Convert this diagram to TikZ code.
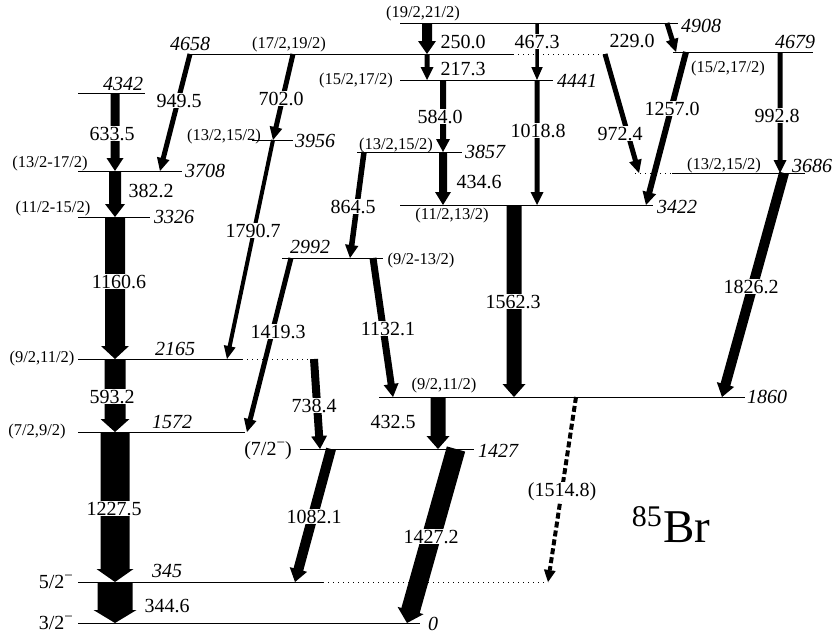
\documentclass[tikz,border=0pt]{standalone}
\usepackage{fontspec}
\setmainfont{Liberation Serif}
\usetikzlibrary{calc}

% raised minus sign for parities
\newcommand\parm{\raisebox{0.38em}{\fontsize{15}{15}\selectfont −}}

% filled gamma-ray arrow from #1 to #2 with shaft width #3 (pt)
\newcommand\gtr[3]{%
  \pgfmathsetmacro\gtrhw{#3/2}%
  \pgfmathsetmacro\gtrho{#3/2+4}%
  \coordinate (gtr-h) at ($(#2)!13pt!(#1)$);
  \fill ($(#1)!\gtrhw pt!90:(#2)$) -- ($(gtr-h)!\gtrhw pt!90:(#2)$)
    -- ($(gtr-h)!\gtrho pt!90:(#2)$) -- (#2)
    -- ($(gtr-h)!\gtrho pt!-90:(#2)$) -- ($(gtr-h)!\gtrhw pt!-90:(#2)$)
    -- ($(#1)!\gtrhw pt!-90:(#2)$) -- cycle;
}
% tentative (dashed) transition
\newcommand\gtrd[3]{%
  \pgfmathsetmacro\gtrho{#3/2+4}%
  \coordinate (gtr-h) at ($(#2)!12pt!(#1)$);
  \draw[line width=#3pt, dash pattern=on 6pt off 3pt] (#1) -- (gtr-h);
  \fill ($(gtr-h)!\gtrho pt!90:(#2)$) -- (#2) -- ($(gtr-h)!\gtrho pt!-90:(#2)$) -- cycle;
}

\begin{document}
\begin{tikzpicture}[x=1pt,y=-1pt,
  lev/.style={line width=0.7pt},
  ext/.style={line width=0.7pt, dash pattern=on 1pt off 4pt},
  tl/.style={font=\fontsize{20}{24}\selectfont, inner sep=0.6pt, anchor=base},
  cut/.style={tl, fill=white},
  en/.style={font=\fontsize{20}{24}\selectfont\itshape, inner sep=0pt, anchor=base},
  sp/.style={font=\fontsize{16.5}{20}\selectfont, inner sep=0pt, anchor=base}]
\useasboundingbox (0,0) rectangle (832,633);

% ---------------- levels ----------------
\coordinate (a4908) at (400,23);  \coordinate (b4908) at (678,23);
\coordinate (a4679) at (673,52);  \coordinate (b4679) at (813,52);
\coordinate (a4658) at (190,54);  \coordinate (b4658) at (513,54); \coordinate (c4658) at (605,54);
\coordinate (a4441) at (400,80);  \coordinate (b4441) at (553,80);
\coordinate (a4342) at (78,93);   \coordinate (b4342) at (145,93);
\coordinate (a3956) at (252,140); \coordinate (b3956) at (293,140);
\coordinate (a3857) at (357,152); \coordinate (b3857) at (462,152);
\coordinate (c3686) at (635,173); \coordinate (a3686) at (672,173); \coordinate (b3686) at (805,173);
\coordinate (a3708) at (78,171);  \coordinate (b3708) at (182,171);
\coordinate (a3422) at (400,205); \coordinate (b3422) at (653,205);
\coordinate (a3326) at (78,217);  \coordinate (b3326) at (150,217);
\coordinate (a2992) at (282,258); \coordinate (b2992) at (383,258);
\coordinate (a2165) at (78,359);  \coordinate (b2165) at (242,359); \coordinate (c2165) at (318,359);
\coordinate (a1860) at (379,397); \coordinate (b1860) at (745,397);
\coordinate (a1572) at (78,432);  \coordinate (b1572) at (245,432);
\coordinate (a1427) at (300,449); \coordinate (b1427) at (474,449);
\coordinate (a345) at (78,582);   \coordinate (b345) at (323,582);  \coordinate (c345) at (548,582);
\coordinate (a0) at (78,623);     \coordinate (b0) at (420,623);

\foreach \l in {4908,4679,4658,4441,4342,3956,3857,3686,3708,3422,3326,2992,2165,1860,1572,1427,345,0}
  \draw[lev] (a\l) -- (b\l);
\draw[ext] (b4658) -- (c4658);
\draw[ext] (c3686) -- (a3686);
\draw[ext] (b2165) -- (c2165);
\draw[ext] (b345) -- (c345);

% ---------------- transition end points ----------------
\coordinate (t6335a) at (115,93);  \coordinate (t6335b) at (115,171);
\coordinate (t3822a) at (115,171); \coordinate (t3822b) at (115,217);
\coordinate (t1160a) at (115,217); \coordinate (t1160b) at (115,359);
\coordinate (t5932a) at (115,359); \coordinate (t5932b) at (115,432);
\coordinate (t1227a) at (115,432); \coordinate (t1227b) at (115,582);
\coordinate (t3446a) at (115,582); \coordinate (t3446b) at (115,623);
\coordinate (t9495a) at (190,54);  \coordinate (t9495b) at (160,171);
\coordinate (t7020a) at (293,54);  \coordinate (t7020b) at (273,140);
\coordinate (t1790a) at (273,140); \coordinate (t1790b) at (227,359);
\coordinate (t2500a) at (427,23);  \coordinate (t2500b) at (427,54);
\coordinate (t2173a) at (427,54);  \coordinate (t2173b) at (427,80);
\coordinate (t4673a) at (537,23);  \coordinate (t4673b) at (537,80);
\coordinate (t5840a) at (443,80);  \coordinate (t5840b) at (443,152);
\coordinate (t4346a) at (443,152); \coordinate (t4346b) at (443,205);
\coordinate (t1018a) at (537,80);  \coordinate (t1018b) at (537,205);
\coordinate (t9724a) at (605,54);  \coordinate (t9724b) at (639,173);
\coordinate (t2290a) at (667,23);  \coordinate (t2290b) at (676,52);
\coordinate (t1257a) at (686,52);  \coordinate (t1257b) at (646,205);
\coordinate (t9928a) at (780,52);  \coordinate (t9928b) at (780,173);
\coordinate (t1826a) at (784,173); \coordinate (t1826b) at (722,397);
\coordinate (t1562a) at (514,205); \coordinate (t1562b) at (514,397);
\coordinate (t8645a) at (364,152); \coordinate (t8645b) at (350,258);
\coordinate (t1419a) at (291,258); \coordinate (t1419b) at (247,432);
\coordinate (t1132a) at (373,258); \coordinate (t1132b) at (393,397);
\coordinate (t7384a) at (314,359); \coordinate (t7384b) at (320,449);
\coordinate (t4325a) at (438,397); \coordinate (t4325b) at (438,449);
\coordinate (t1082a) at (331,449); \coordinate (t1082b) at (295,582);
\coordinate (t1427a) at (456,449); \coordinate (t1427b) at (407,623);
\coordinate (t1514a) at (576,397); \coordinate (t1514b) at (548,582);

% ---------------- transitions ----------------
\gtr{t6335a}{t6335b}{9}
\gtr{t3822a}{t3822b}{12}
\gtr{t1160a}{t1160b}{20}
\gtr{t5932a}{t5932b}{21}
\gtr{t1227a}{t1227b}{29}
\gtr{t3446a}{t3446b}{35}
\gtr{t9495a}{t9495b}{5}
\gtr{t7020a}{t7020b}{5}
\gtr{t1790a}{t1790b}{4}
\gtr{t2500a}{t2500b}{10}
\gtr{t2173a}{t2173b}{5}
\gtr{t4673a}{t4673b}{3.5}
\gtr{t5840a}{t5840b}{6}
\gtr{t4346a}{t4346b}{8}
\gtr{t1018a}{t1018b}{5}
\gtr{t9724a}{t9724b}{5}
\gtr{t2290a}{t2290b}{5}
\gtr{t1257a}{t1257b}{6}
\gtr{t9928a}{t9928b}{5}
\gtr{t1826a}{t1826b}{10}
\gtr{t1562a}{t1562b}{15}
\gtr{t8645a}{t8645b}{5.5}
\gtr{t1419a}{t1419b}{5}
\gtr{t1132a}{t1132b}{7}
\gtr{t7384a}{t7384b}{8}
\gtr{t4325a}{t4325b}{15}
\gtr{t1082a}{t1082b}{10}
\gtr{t1427a}{t1427b}{19}
\gtrd{t1514a}{t1514b}{4}

% ---------------- transition energies ----------------
\node[cut] (e6335) at (112,140) {633.5};
\node[tl]  (e3822) at (151,197) {382.2};
\node[cut] (e1160) at (119,288) {1160.6};
\node[cut] (e5932) at (112,403) {593.2};
\node[cut] (e1227) at (114,515) {1227.5};
\node[tl]  (e3446) at (167,612) {344.6};
\node[cut] (e9495) at (179,107) {949.5};
\node[cut] (e7020) at (281,105) {702.0};
\node[cut] (e1790) at (253,237) {1790.7};
\node[tl]  (e2500) at (463,48) {250.0};
\node[tl]  (e2173) at (463,75) {217.3};
\node[cut] (e4673) at (537,48) {467.3};
\node[cut] (e5840) at (440,123) {584.0};
\node[tl]  (e4346) at (479,188) {434.6};
\node[cut] (e1018) at (538,137) {1018.8};
\node[cut] (e9724) at (620,140) {972.4};
\node[tl]  (e2290) at (632,47) {229.0};
\node[cut] (e1257) at (672,115) {1257.0};
\node[cut] (e9928) at (777,122) {992.8};
\node[cut] (e1826) at (751,293) {1826.2};
\node[cut] (e1562) at (513,308) {1562.3};
\node[cut] (e8645) at (353,213) {864.5};
\node[cut] (e1419) at (278,338) {1419.3};
\node[cut] (e1132) at (388,335) {1132.1};
\node[cut] (e7384) at (314,412) {738.4};
\node[tl]  (e4325) at (393,428) {432.5};
\node[cut] (e1082) at (314,523) {1082.1};
\node[cut] (e1427) at (431,543) {1427.2};
\node[cut] (e1514) at (562,496) {(1514.8)};

% ---------------- level energies ----------------
\node[en] (n4908) at (701,32) {4908};
\node[en] (n4679) at (795,48) {4679};
\node[en] (n4658) at (190,50) {4658};
\node[en] (n4441) at (577,87) {4441};
\node[en] (n4342) at (123,90) {4342};
\node[en] (n3956) at (315,147) {3956};
\node[en] (n3857) at (485,158) {3857};
\node[en] (n3686) at (812,172) {3686};
\node[en] (n3708) at (205,177) {3708};
\node[en] (n3422) at (677,213) {3422};
\node[en] (n3326) at (174,223) {3326};
\node[en] (n2992) at (310,253) {2992};
\node[en] (n2165) at (175,355) {2165};
\node[en] (n1860) at (767,403) {1860};
\node[en] (n1572) at (172,428) {1572};
\node[en] (n1427) at (498,457) {1427};
\node[en] (n345)  at (167,577) {345};
\node[en] (n0)    at (433,630) {0};

% ---------------- spins and parities ----------------
\node[sp] (s4908) at (423,17)  {(19/2,21/2)};
\node[sp] (s4658) at (289,48)  {(17/2,19/2)};
\node[sp] (s4441) at (356,84)  {(15/2,17/2)};
\node[sp] (s4679) at (728,72)  {(15/2,17/2)};
\node[sp] (s3956) at (224,140) {(13/2,15/2)};
\node[sp] (s3857) at (396,149) {(13/2,15/2)};
\node[sp] (s3686) at (724,169) {(13/2,15/2)};
\node[sp] (s3708) at (50,167)  {(13/2-17/2)};
\node[sp] (s3326) at (53,212)  {(11/2-15/2)};
\node[sp] (s3422) at (452,219) {(11/2,13/2)};
\node[sp] (s2992) at (421,264) {(9/2-13/2)};
\node[sp] (s2165) at (42,362)  {(9/2,11/2)};
\node[sp] (s1860) at (444,389) {(9/2,11/2)};
\node[sp] (s1572) at (37,435)  {(7/2,9/2)};
\node[tl, inner sep=0pt] (s1427) at (268,455) {(7/2\parm)};
\node[tl, inner sep=0pt, anchor=base east] (s345) at (73,588) {5/2\parm};
\node[tl, inner sep=0pt, anchor=base east] (s0) at (73,629) {3/2\parm};

% ---------------- nucleus ----------------
\node[font=\fontsize{47}{50}\selectfont, inner sep=0pt, anchor=base west] (nuc) at (663,542) {Br};
\node[font=\fontsize{30}{32}\selectfont, inner sep=0pt, anchor=base east] (mass) at (662,526) {85};
\end{tikzpicture}
\end{document}
